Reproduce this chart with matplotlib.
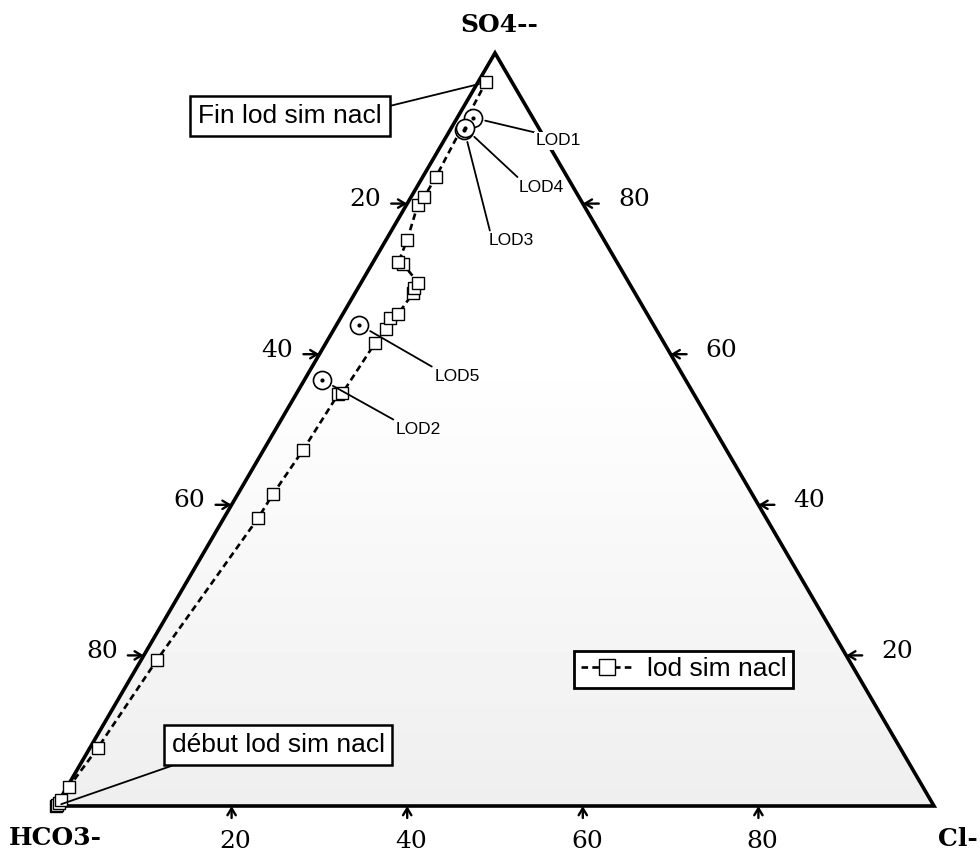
import numpy as np
import matplotlib
matplotlib.use("Agg")
import matplotlib.pyplot as plt
from matplotlib.patches import Polygon

# Simulated path "lod sim nacl": SO4-- and Cl- in percent (HCO3- is the remainder)
sim_so4 = [0.0, 0.1, 0.4, 0.8, 2.5, 7.7, 19.4, 38.2, 41.4, 47.3, 54.7, 54.8,
           61.5, 63.3, 64.8, 65.3, 68.1, 68.8, 69.5, 72.0, 72.2, 75.2, 79.8,
           80.9, 83.5, 96.1]
sim_cl = [0.0, 0.1, 0.1, 0.2, 0.2, 0.9, 1.8, 3.9, 4.0, 4.5, 4.8, 5.2,
          5.6, 5.9, 5.6, 6.3, 6.6, 6.4, 6.5, 3.5, 2.9, 2.4, 1.3,
          1.5, 1.5, 0.9]

# Measured samples
lod_names = ["LOD1", "LOD2", "LOD3", "LOD4", "LOD5"]
lod_so4 = [91.4, 56.6, 89.8, 90.0, 63.9]
lod_cl = [1.8, 2.0, 1.6, 1.6, 2.6]

tick_values = [20, 40, 60, 80]
series_label = "lod sim nacl"
start_label = "début lod sim nacl"
end_label = "Fin lod sim nacl"


def tern(so4, cl):
    so4 = np.asarray(so4, dtype=float) / 100.0
    cl = np.asarray(cl, dtype=float) / 100.0
    return cl + so4 / 2.0, so4


W, H = 980, 856
fig = plt.figure(figsize=(W / 100, H / 100), dpi=100)
x0, x1, ytop, ybot = 56, 934, 53, 806
ax = fig.add_axes([x0 / W, (H - ybot) / H, (x1 - x0) / W, (ybot - ytop) / H])
ax.set_xlim(0, 1)
ax.set_ylim(0, 1)
ax.axis("off")

serif = "DejaVu Serif"
sans = "Liberation Sans"

# light shading inside the triangle, darker towards the base
tri = Polygon([[0, 0], [1, 0], [0.5, 1]], closed=True, transform=ax.transData,
              facecolor="none", edgecolor="none")
ax.add_patch(tri)
yy = np.linspace(0, 1, 200)[:, None] * np.ones((1, 10))
shade = 1 - 0.065 * np.clip((0.6 - yy) / 0.6, 0, 1)
im = ax.imshow(shade, extent=(0, 1, 0, 1), origin="lower", cmap="gray",
               vmin=0, vmax=1, aspect="auto", zorder=0, interpolation="bilinear")
im.set_clip_path(tri)

# triangle outline
ax.plot([0, 1, 0.5, 0], [0, 0, 1, 0], color="black", lw=2.6,
        solid_joinstyle="miter", clip_on=False, zorder=3)

# corner labels
corner_kw = dict(textcoords="offset pixels", ha="center", va="center",
                 fontsize=18, family=serif, fontweight="bold")
ax.annotate("SO4--", xy=(0.5, 1), xytext=(4, 28), **corner_kw)
ax.annotate("HCO3-", xy=(0, 0), xytext=(-1, -32), **corner_kw)
ax.annotate("Cl-", xy=(1, 0), xytext=(24, -33), **corner_kw)

# edge ticks (arrow heads pointing at the edges) and their labels
arrow_kw = dict(arrowstyle="->,head_length=0.5,head_width=0.3", lw=1.7,
                color="black", shrinkA=0, shrinkB=0)
lab_kw = dict(textcoords="offset pixels", ha="center", va="center",
              fontsize=18, family=serif)
for v in tick_values:
    # left edge: HCO3- share
    p = tern(100 - v, 0)
    ax.annotate("", xy=p, xytext=(-16, 0), textcoords="offset pixels",
                arrowprops=arrow_kw, zorder=4)
    ax.annotate(str(v), xy=p, xytext=(-42, 4), **lab_kw)
    # right edge: SO4-- share
    p = tern(v, 100 - v)
    ax.annotate("", xy=p, xytext=(16, 0), textcoords="offset pixels",
                arrowprops=arrow_kw, zorder=4)
    ax.annotate(str(v), xy=p, xytext=(51, 4), **lab_kw)
    # base: Cl- share
    p = tern(0, v)
    ax.annotate("", xy=p, xytext=(0, -12), textcoords="offset pixels",
                arrowprops=arrow_kw, zorder=4)
    ax.annotate(str(v), xy=p, xytext=(4, -35), **lab_kw)

# simulated path
sx, sy = tern(sim_so4, sim_cl)
ax.plot(sx, sy, color="black", lw=1.9, ls=(0, (2.5, 1.6)), marker="s",
        ms=8.5, mfc="white", mec="black", mew=1.0, label=series_label,
        clip_on=False, zorder=5)

# measured samples
lx, ly = tern(lod_so4, lod_cl)
ax.plot(lx, ly, ls="none", marker="o", ms=13, mfc="white", mec="black",
        mew=1.2, clip_on=False, zorder=6)
ax.plot(lx, ly, ls="none", marker="o", ms=2, mfc="black", mec="black",
        clip_on=False, zorder=7)

lod_offsets = {"LOD1": (63, -23), "LOD2": (74, -50), "LOD3": (24, -111),
               "LOD4": (53, -59), "LOD5": (75, -52)}
for name, x, y in zip(lod_names, lx, ly):
    bbox = dict(boxstyle="square,pad=0.1", fc="white", ec="none") if name == "LOD1" else None
    ax.annotate(name, xy=(x, y), xytext=lod_offsets[name],
                textcoords="offset pixels", ha="left", va="center",
                fontsize=12.5, family=sans, bbox=bbox, zorder=8,
                arrowprops=dict(arrowstyle="-", lw=1.3, color="black",
                                relpos=(0.05, 1.0), shrinkA=0, shrinkB=9))

# start / end call-outs
box_kw = dict(boxstyle="square,pad=0.3", fc="white", ec="black", lw=1.8)
ax.annotate(end_label, xy=(sx[-1], sy[-1]), xytext=(-196, -34),
            textcoords="offset pixels", ha="center", va="center",
            fontsize=19, family=sans, bbox=box_kw, zorder=8,
            arrowprops=dict(arrowstyle="-", lw=1.3, color="black",
                            relpos=(1.0, 0.85), shrinkA=0, shrinkB=5))
ax.annotate(start_label, xy=(sx[0], sy[0]), xytext=(222, 61),
            textcoords="offset pixels", ha="center", va="center",
            fontsize=19, family=sans, bbox=box_kw, zorder=8,
            arrowprops=dict(arrowstyle="-", lw=1.3, color="black",
                            relpos=(0.12, 0.0), shrinkA=0, shrinkB=4))

leg = ax.legend(loc="center", bbox_to_anchor=(683.5 / W, (H - 669.5) / H),
                bbox_transform=fig.transFigure, frameon=True, fancybox=False,
                framealpha=1, edgecolor="black",
                prop=dict(family=sans, size=19), handlelength=2.0,
                handletextpad=0.5, borderpad=0.25, markerscale=1.4)
leg.get_frame().set_linewidth(2.0)
leg.set_zorder(9)

fig.savefig("out.png", dpi=100)
